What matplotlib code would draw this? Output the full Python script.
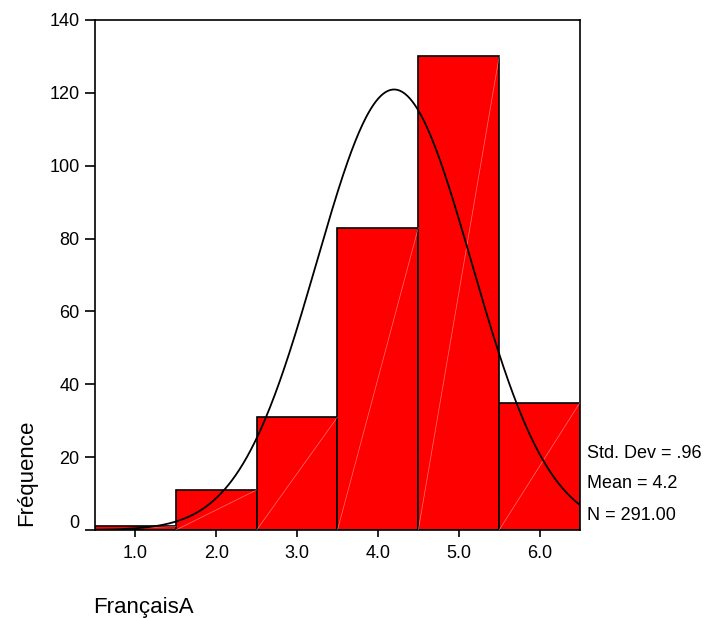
import numpy as np
import matplotlib
matplotlib.use('Agg')
import matplotlib.pyplot as plt
import matplotlib.transforms as mtransforms

# données de l'histogramme
categories = [1.0, 2.0, 3.0, 4.0, 5.0, 6.0]
frequences = [1, 11, 31, 83, 130, 35]
tick_labels = ['1.0', '2.0', '3.0', '4.0', '5.0', '6.0']
y_ticks = [0, 20, 40, 60, 80, 100, 120, 140]

# statistiques affichées
std_dev = 0.96
moyenne = 4.2
n_total = 291.00

plt.rcParams['font.family'] = ['Liberation Sans', 'DejaVu Sans']

fig = plt.figure(figsize=(7.07, 6.18), dpi=100)
ax = fig.add_axes([95 / 707, 88 / 618, 485 / 707, 510 / 618])

largeur = 1.0
ax.bar(categories, frequences, width=largeur, color='#ff0000',
       edgecolor='black', linewidth=1.2, zorder=2)

# petites diagonales claires dans les barres (style SPSS)
for x, h in zip(categories, frequences):
    ax.plot([x - largeur / 2, x + largeur / 2], [0, h], color='white',
            lw=0.5, alpha=0.45, zorder=3)

# courbe normale
xs = np.linspace(0.5, 6.5, 400)
ys = n_total * largeur / (std_dev * np.sqrt(2 * np.pi)) * np.exp(-0.5 * ((xs - moyenne) / std_dev) ** 2)
ax.plot(xs, ys, color='black', lw=1.3, zorder=4)

ax.set_xlim(0.5, 6.5)
ax.set_ylim(0, 140)
ax.set_xticks(categories)
ax.set_xticklabels(tick_labels)
ax.set_yticks(y_ticks)
ax.tick_params(axis='both', labelsize=13, width=1.2, direction='out')
ax.tick_params(axis='x', length=5, pad=6)
ax.tick_params(axis='y', length=7, pad=4)
for s in ax.spines.values():
    s.set_linewidth(1.2)

# le "0" est décalé vers le haut comme dans SPSS
lab0 = ax.get_yticklabels()[0]
lab0.set_transform(lab0.get_transform() + mtransforms.ScaledTranslation(0, 9 / 100, fig.dpi_scale_trans))

fig.text(27 / 707, 1 - 473 / 618, 'Fréquence', rotation=90, fontsize=16,
         ha='center', va='center')
fig.text(93 / 707, 1 - 607 / 618, 'FrançaisA', fontsize=16, ha='left', va='center')

stats = [f'Std. Dev = .{int(round(std_dev * 100))}', f'Mean = {moyenne}', f'N = {n_total:.2f}']
for i, t in enumerate(stats):
    fig.text(587 / 707, 1 - (453 + 31 * i) / 618, t, fontsize=13, ha='left', va='center')

fig.savefig('out.png', dpi=100)
